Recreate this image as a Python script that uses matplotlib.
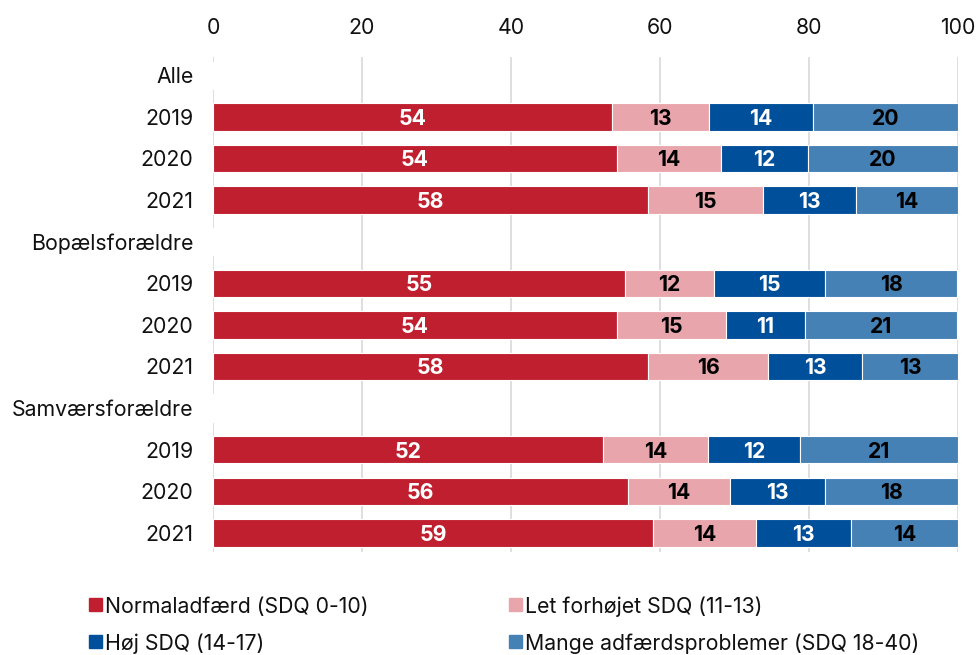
import matplotlib
matplotlib.use("Agg")
import matplotlib.pyplot as plt
from matplotlib.patches import Rectangle
import numpy as np

plt.rcParams['font.family'] = ['Inter', 'DejaVu Sans']

rows = ["Alle", "2019", "2020", "2021",
        "Bopælsforældre", "2019", "2020", "2021",
        "Samværsforældre", "2019", "2020", "2021"]
series = ["Normaladfærd (SDQ 0-10)", "Let forhøjet SDQ (11-13)",
          "Høj SDQ (14-17)", "Mange adfærdsproblemer (SDQ 18-40)"]
colors = ["#C01F2F", "#E8A6AC", "#004F9A", "#4681B5"]
text_colors = ["white", "black", "white", "black"]

# NaN for header rows
normal = [np.nan, 53.6, 54.2, 58.4, np.nan, 55.3, 54.2, 58.4, np.nan, 52.4, 55.7, 59.1]
let    = [np.nan, 13.0, 14.0, 15.4, np.nan, 11.9, 14.6, 16.1, np.nan, 14.0, 13.7, 13.8]
hoj    = [np.nan, 13.9, 11.7, 12.5, np.nan, 15.0, 10.6, 12.6, np.nan, 12.4, 12.7, 12.7]
mange  = [np.nan, 19.5, 20.1, 13.7, np.nan, 17.7, 20.5, 12.9, np.nan, 21.2, 17.9, 14.4]

lab_normal = ["", "54", "54", "58", "", "55", "54", "58", "", "52", "56", "59"]
lab_let    = ["", "13", "14", "15", "", "12", "15", "16", "", "14", "14", "14"]
lab_hoj    = ["", "14", "12", "13", "", "15", "11", "13", "", "12", "13", "13"]
lab_mange  = ["", "20", "20", "14", "", "18", "21", "13", "", "21", "18", "14"]

data = [normal, let, hoj, mange]
labels = [lab_normal, lab_let, lab_hoj, lab_mange]

FS = 15.3

W, H = 979, 655
fig = plt.figure(figsize=(W/100, H/100), dpi=100)
ax = fig.add_axes([213/W, 1-552/H, (958-213)/W, (552-57)/H])

y = np.arange(len(rows))
left = np.zeros(len(rows))
for vals, labs, col, tc in zip(data, labels, colors, text_colors):
    v = np.array(vals, dtype=float)
    vv = np.nan_to_num(v)
    ax.barh(y, vv, left=left, height=0.66, color=col, edgecolor="white",
            linewidth=0.8, zorder=3)
    for i in range(len(rows)):
        if labs[i]:
            ax.text(left[i] + vv[i]/2, y[i], labs[i], ha="center",
                    va="center_baseline", color=tc, fontsize=FS,
                    fontweight="bold", zorder=4)
    left = left + vv

ax.set_xlim(0, 100)
ax.set_ylim(11.46, -0.44)
ax.set_xticks(np.arange(0, 101, 20))
ax.xaxis.tick_top()
ax.tick_params(axis="x", length=0, pad=14, labelsize=FS, colors="#111111")
ax.set_yticks(y)
ax.set_yticklabels(rows)
ax.tick_params(axis="y", length=0, pad=14, labelsize=FS, colors="#111111")
ax.grid(axis="x", color="#D9D9D9", linewidth=1.2, zorder=0)
for s in ax.spines.values():
    s.set_visible(False)

# legend, laid out manually in two rows / two columns
leg_pos = [(89, 604.5), (509, 604.5), (89, 641.5), (509, 641.5)]
for (px, py), name, col in zip(leg_pos, series, colors):
    fig.patches.append(Rectangle((px/W, 1-(py+6.5)/H), 13/W, 13/H,
                                 transform=fig.transFigure, color=col))
    fig.text((px+16)/W, 1-py/H, name, ha="left", va="center_baseline",
             fontsize=FS, color="#111111")

fig.savefig("out.png", dpi=100)
